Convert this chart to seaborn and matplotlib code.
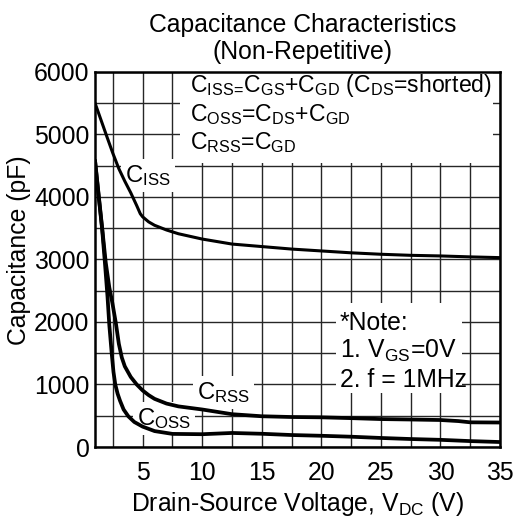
import matplotlib
matplotlib.use("Agg")
import matplotlib.pyplot as plt
from matplotlib.patches import Rectangle
import seaborn as sns
import pandas as pd

# curve values (V, pF)
vds_iss = [1, 1.5, 2, 2.5, 3, 3.5, 4, 4.5, 4.8, 5, 5.5, 6, 7, 8, 10, 12.5, 15,
           17.5, 20, 22.5, 25, 27.5, 30, 32.5, 35]
c_iss = [5500, 5230, 4960, 4695, 4450, 4250, 4065, 3860, 3730, 3680, 3600, 3545,
         3470, 3410, 3325, 3245, 3205, 3165, 3135, 3105, 3082, 3065, 3055, 3040, 3028]

vds_rss = [1, 1.3, 1.6, 1.9, 2.2, 2.46, 2.75, 3.0, 3.25, 3.5, 4, 4.5, 5, 5.5, 6,
           7, 8, 10, 12.5, 15, 17.5, 20, 22.5, 25, 27.5, 30, 31.5, 32.5, 35]
c_rss = [4580, 4040, 3500, 2950, 2550, 2300, 1980, 1650, 1430, 1290, 1120, 1000,
         904, 830, 770, 695, 650, 600, 525, 492, 480, 475, 462, 447, 440, 432,
         415, 395, 392]

vds_oss = [1, 1.3, 1.6, 1.85, 2.05, 2.2, 2.4, 2.55, 2.7, 2.9, 3.1, 3.4, 3.8, 4.3,
           5, 6, 7.5, 10, 12.5, 15, 17.5, 20, 22.5, 25, 27.5, 30, 32.5, 35]
c_oss = [4580, 4020, 3480, 2900, 2400, 1950, 1500, 1200, 1000, 850, 740, 600, 490,
         400, 326, 255, 210, 205, 225, 212, 192, 180, 165, 145, 128, 115, 95, 80]

x_ticks = [5, 10, 15, 20, 25, 30, 35]
y_ticks = [0, 1000, 2000, 3000, 4000, 5000, 6000]

df_iss = pd.DataFrame({"vds": vds_iss, "c": c_iss})
df_rss = pd.DataFrame({"vds": vds_rss, "c": c_rss})
df_oss = pd.DataFrame({"vds": vds_oss, "c": c_oss})

sns.set_theme(style="white")
plt.rcParams["font.family"] = ["Liberation Sans", "DejaVu Sans"]
plt.rcParams["mathtext.fontset"] = "custom"
plt.rcParams["mathtext.rm"] = "Liberation Sans"
plt.rcParams["mathtext.it"] = "Liberation Sans"

FS = 17.8
FS_TOP = 16.6

fig = plt.figure(figsize=(5.15, 5.18), dpi=100)
ax = fig.add_axes([0.1845, 0.137, 0.7865, 0.7245])

sns.lineplot(data=df_iss, x="vds", y="c", ax=ax, color="black", lw=2.2,
             sort=False, estimator=None, zorder=3)
sns.lineplot(data=df_rss, x="vds", y="c", ax=ax, color="black", lw=2.7,
             sort=False, estimator=None, zorder=3)
sns.lineplot(data=df_oss, x="vds", y="c", ax=ax, color="black", lw=2.7,
             sort=False, estimator=None, zorder=3)

ax.set_xlim(1, 35)
ax.set_ylim(0, 6000)
ax.set_xticks(x_ticks)
ax.set_yticks(y_ticks)
ax.set_xticks([2.5 + 5 * i for i in range(7)], minor=True)
ax.set_yticks([500 + 1000 * i for i in range(6)], minor=True)
ax.grid(True, which="both", color="#262626", lw=1.0)
ax.set_axisbelow(True)
ax.tick_params(axis="both", which="both", length=0, labelsize=FS, colors="black")
ax.tick_params(axis="x", pad=10)
ax.tick_params(axis="y", pad=4)
for s in ax.spines.values():
    s.set_color("black")
    s.set_linewidth(1.8)
    s.set_zorder(5)

# white boxes that hide the grid behind the notes
ax.add_patch(Rectangle((0.209, 0.757), 0.773, 0.243, transform=ax.transAxes,
                       facecolor="white", edgecolor="none", zorder=1))
ax.add_patch(Rectangle((0.594, 0.1445), 0.312, 0.2405, transform=ax.transAxes,
                       facecolor="white", edgecolor="none", zorder=1))

tkw = dict(fontsize=FS, color="black", ha="left", va="baseline", zorder=4)
top = dict(tkw, fontsize=FS_TOP)
ax.text(8.98, 5682, r"C$_{\mathrm{ISS}\!=\!}$C$_{\mathrm{GS}}$+C$_{\mathrm{GD}}$ (C$_{\mathrm{DS}}$=shorted)", **top)
ax.text(8.98, 5217, r"C$_{\mathrm{OSS}}$=C$_{\mathrm{DS}}$+C$_{\mathrm{GD}}$", **top)
ax.text(8.98, 4767, r"C$_{\mathrm{RSS}}$=C$_{\mathrm{GD}}$", **top)

ax.text(21.55, 1878, "*Note:", **tkw)
ax.text(21.55, 1428, r"1. V$_{\mathrm{GS}}$=0V", **tkw)
ax.text(21.55, 963, "2. f = 1MHz", **tkw)

# curve labels sit above the grid but under the curves
lkw = dict(tkw, fontsize=17.2, zorder=2,
           bbox=dict(facecolor="white", edgecolor="none", pad=3))
ax.text(3.55, 4237, r"C$_{\mathrm{ISS}}$", **lkw)
ax.text(9.56, 770, r"C$_{\mathrm{RSS}}$", **lkw)
ax.text(4.53, 353, r"C$_{\mathrm{OSS}}$", **lkw)

ax.set_title("Capacitance Characteristics\n(Non-Repetitive)", fontsize=FS,
             color="black", linespacing=1.15, pad=9, x=0.512)
ax.set_xlabel(r"Drain-Source Voltage, V$_{\mathrm{DC}}$ (V)", fontsize=FS,
              color="black", labelpad=4)
ax.set_ylabel("Capacitance (pF)", fontsize=FS, color="black")
ax.yaxis.set_label_coords(-0.157, 0.525)

fig.savefig("out.png", dpi=100)
